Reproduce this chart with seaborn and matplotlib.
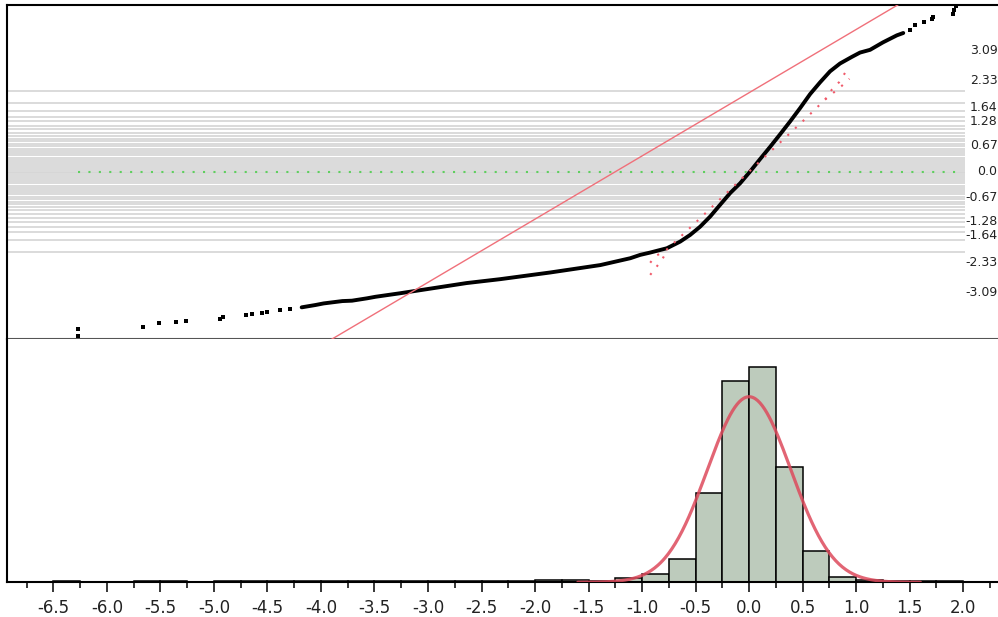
import numpy as np
import pandas as pd
import matplotlib
matplotlib.use('Agg')
import matplotlib.pyplot as plt
import matplotlib.transforms as mtransforms
import seaborn as sns
from statistics import NormalDist

# --- normal quantile plot (sorted value vs normal quantile)
tail_lo_v = [-6.27, -6.27, -5.665, -5.515, -5.35, -5.26, -4.94, -4.915, -4.70,
             -4.64, -4.55, -4.50, -4.385, -4.285]
tail_lo_z = [-4.20, -4.03, -3.96, -3.88, -3.84, -3.81, -3.78, -3.71, -3.67,
             -3.64, -3.61, -3.58, -3.54, -3.51]

curve_v = [-4.18, -4.05, -3.975, -3.80, -3.71, -3.57, -3.49, -3.26, -2.95, -2.64,
           -2.325, -1.86, -1.39, -1.11, -1.018, -0.924, -0.768, -0.644, -0.551,
           -0.458, -0.364, -0.271, -0.177, -0.084, 0.009, 0.103, 0.196, 0.289,
           0.383, 0.476, 0.570, 0.663, 0.756, 0.849, 0.960, 1.036, 1.13, 1.25,
           1.38, 1.44]
curve_z = [-3.47, -3.41, -3.37, -3.31, -3.30, -3.24, -3.20, -3.11, -2.98, -2.85,
           -2.75, -2.58, -2.39, -2.215, -2.13, -2.07, -1.96, -1.79, -1.62,
           -1.41, -1.15, -0.85, -0.55, -0.30, 0.0, 0.32, 0.63, 0.95,
           1.28, 1.62, 1.98, 2.28, 2.56, 2.76, 2.93, 3.04, 3.11, 3.30,
           3.48, 3.54]

tail_hi_v = [1.50, 1.55, 1.63, 1.71, 1.72, 1.90, 1.91, 1.93]
tail_hi_z = [3.62, 3.75, 3.81, 3.90, 3.95, 4.03, 4.14, 4.24]

# dotted confidence band around the fitted line, plus its forks at the ends
band_v = [-0.924, -0.878, -0.768, -0.51, 0.0, 0.53, 0.71, 0.772, 0.843, 0.896]
band_z = [-2.33, -2.17, -1.99, -1.33, 0.0, 1.36, 1.84, 2.09, 2.29, 2.52]
fork_lo_v = [-0.924, -0.815, -0.768]
fork_lo_z = [-2.64, -2.26, -2.03]
fork_hi_v = [0.71, 0.866, 0.937]
fork_hi_z = [1.84, 2.19, 2.37]

# solid reference line in the quantile plot
ref_mu, ref_sigma = -1.247, 0.619

# right hand quantile labels
quantile_labels = ['3.09', '2.33', '1.64', '1.28', '0.67', '0.0',
                   '-0.67', '-1.28', '-1.64', '-2.33', '-3.09']

# --- histogram: bins of 0.25 starting at -6.5
bin_start = -6.5
bin_width = 0.25
bin_counts = [12, 0, 0, 12, 12, 0,
              12, 12, 12, 12, 12, 12, 12, 12, 12, 12, 12, 12,
              27, 25, 15, 40, 80, 234, 894, 2010, 2157, 1157, 317, 57, 27,
              12, 12, 12]

# fitted normal curve
fit_mu, fit_sigma = 0.0, 0.39
fit_lo, fit_hi = -1.6, 1.6

tick_labels = ['-6.5', '-6.0', '-5.5', '-5.0', '-4.5', '-4.0', '-3.5', '-3.0',
               '-2.5', '-2.0', '-1.5', '-1.0', '-0.5', '0.0', '0.5', '1.0',
               '1.5', '2.0']

sns.set_style('white')
plt.rcParams['font.family'] = ['DejaVu Sans']
plt.rcParams['axes.unicode_minus'] = False

xlim = (-6.93, 2.325)

fig = plt.figure(figsize=(9.98, 6.17), dpi=100)
ax1 = fig.add_axes([0.00731, 0.45057, 0.99269, 0.54181])
ax2 = fig.add_axes([0.00731, 0.05624, 0.99269, 0.39433])

# ---------------- top: normal quantile plot
grid_z = [NormalDist().inv_cdf(p / 100) for p in range(2, 99, 2)]
ax1.hlines(grid_z, xlim[0], 2.02, color='#d6d6d6', lw=1.25, zorder=1)

all_v = tail_lo_v + curve_v + tail_hi_v
sns.lineplot(x=[min(all_v), max(all_v)], y=[0, 0], ax=ax1, color='#5fcf5f',
             lw=1.5, linestyle=(0, (1, 4)), zorder=6)

ref_x = np.array(xlim)
sns.lineplot(x=ref_x, y=(ref_x - ref_mu) / ref_sigma, ax=ax1, color='#f0707a',
             lw=1.0, zorder=4)

sns.lineplot(x=curve_v, y=curve_z, ax=ax1, sort=False, estimator=None,
             color='black', lw=2.8, zorder=3)
sns.scatterplot(x=tail_lo_v + tail_hi_v, y=tail_lo_z + tail_hi_z, ax=ax1,
                marker='s', s=5, color='black', linewidth=0, zorder=3)

for bv, bz in [(band_v, band_z), (fork_lo_v, fork_lo_z), (fork_hi_v, fork_hi_z)]:
    sns.lineplot(x=bv, y=bz, ax=ax1, sort=False, estimator=None,
                 color='#f05a6a', lw=1.5, linestyle=(0, (1, 4)), zorder=5)

trans = mtransforms.blended_transform_factory(ax1.transAxes, ax1.transData)
for lab in quantile_labels:
    ax1.text(0.9995, float(lab), lab, transform=trans, ha='right', va='center',
             fontsize=9, color='#222222')

ax1.set_xlim(*xlim)
ax1.set_ylim(-4.279, 4.263)
ax1.set_xticks([])
ax1.set_yticks([])
ax1.set_xlabel('')
ax1.set_ylabel('')
for side in ['top', 'left']:
    ax1.spines[side].set_color('black')
    ax1.spines[side].set_linewidth(1.5)
ax1.spines['bottom'].set_color('#555555')
ax1.spines['bottom'].set_linewidth(1.5)
ax1.spines['right'].set_visible(False)

# ---------------- bottom: histogram with normal curve
n_bins = len(bin_counts)
bin_mids = [bin_start + bin_width * (i + 0.5) for i in range(n_bins)]
hist_df = pd.DataFrame({'value': bin_mids, 'count': bin_counts})
sns.histplot(data=hist_df, x='value', weights='count', binwidth=bin_width,
             binrange=(bin_start, bin_start + bin_width * n_bins), ax=ax2,
             color='#bdcbbc', edgecolor='black', linewidth=1.1, alpha=1)

xc = np.linspace(fit_lo, fit_hi, 300)
yc = sum(bin_counts) * bin_width * np.exp(-0.5 * ((xc - fit_mu) / fit_sigma) ** 2) \
    / (fit_sigma * np.sqrt(2 * np.pi))
sns.lineplot(x=xc, y=yc, ax=ax2, color='#dd4a5c', lw=2.3, alpha=0.85, zorder=4)

ax2.set_xlim(*xlim)
ax2.set_ylim(0, 2433)
ax2.set_yticks([])
ax2.set_ylabel('')
ax2.set_xlabel('')
ax2.set_xticks([float(t) for t in tick_labels])
ax2.set_xticklabels(tick_labels)
ax2.xaxis.set_minor_locator(matplotlib.ticker.MultipleLocator(0.25))
ax2.tick_params(axis='x', which='major', bottom=True, length=7, width=1.1,
                color='black', pad=5, labelsize=12, labelcolor='#222222')
ax2.tick_params(axis='x', which='minor', bottom=True, length=4.3, width=1.1,
                color='black')
for side in ['left', 'bottom']:
    ax2.spines[side].set_color('black')
    ax2.spines[side].set_linewidth(1.5)
ax2.spines['top'].set_visible(False)
ax2.spines['right'].set_visible(False)

fig.savefig('out.png', dpi=100)
